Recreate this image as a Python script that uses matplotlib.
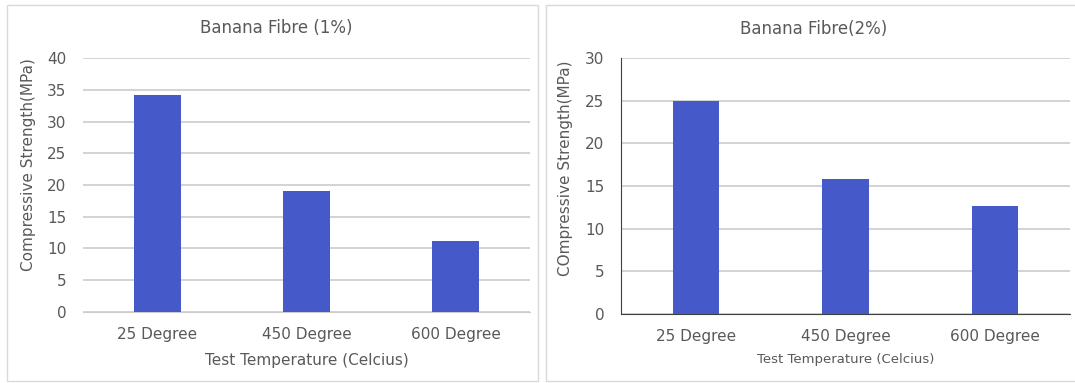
import matplotlib.pyplot as plt
from matplotlib.patches import Rectangle

temps = ['25 Degree', '450 Degree', '600 Degree']
strength_1pct = [34.2, 19.0, 11.2]
strength_2pct = [25.0, 15.8, 12.7]

bar_color = '#4659c8'
text_color = '#595959'
grid_color = '#cccccc'

plt.rcParams['font.family'] = 'DejaVu Sans'

fig = plt.figure(figsize=(10.75, 3.83), dpi=100)
W, H = 1075, 383

# light chart-area frames
fig.patches.append(Rectangle((7 / W, 1 - 381 / H), 531 / W, 376 / H, transform=fig.transFigure,
                             fill=False, edgecolor='#d9d9d9', linewidth=1))
fig.patches.append(Rectangle((546 / W, 1 - 381 / H), 535 / W, 376 / H, transform=fig.transFigure,
                             fill=False, edgecolor='#d9d9d9', linewidth=1))

ax1 = fig.add_axes([83 / W, 1 - 311.7 / H, 447 / W, 253.4 / H])
ax2 = fig.add_axes([621 / W, 1 - 314 / H, 449 / W, 256 / H])


def style(ax, values, ymax, ylabel, xlabel_size, dark_spines):
    x = range(len(temps))
    ax.bar(x, values, width=0.31, color=bar_color, zorder=3)
    ax.set_xlim(-0.5, 2.5)
    ax.set_ylim(0, ymax)
    ax.set_yticks(range(0, ymax + 1, 5))
    ax.set_xticks(list(x))
    ax.set_xticklabels(temps)
    ax.grid(axis='y', color=grid_color, linewidth=1.2, zorder=0)
    ax.tick_params(length=0, labelsize=11, labelcolor=text_color)
    ax.tick_params(axis='y', pad=12)
    ax.tick_params(axis='x', pad=11)
    for side in ['top', 'right']:
        ax.spines[side].set_visible(False)
    if dark_spines:
        ax.spines['left'].set_color('#404040')
        ax.spines['bottom'].set_color('#404040')
        ax.spines['left'].set_zorder(4)
        ax.spines['bottom'].set_zorder(4)
    else:
        ax.spines['left'].set_visible(False)
        ax.spines['bottom'].set_color(grid_color)
    ax.set_ylabel(ylabel, fontsize=11, color=text_color)
    ax.yaxis.label.set_va('center')
    ax.set_xlabel('Test Temperature (Celcius)', fontsize=xlabel_size, color=text_color)
    ax.xaxis.label.set_va('center')


style(ax1, strength_1pct, 40, 'Compressive Strength(MPa)', 11, False)
ax1.xaxis.set_label_coords(0.5, (311.7 - 360) / 253.4)
ax1.yaxis.set_label_coords(-0.123, 0.579)

style(ax2, strength_2pct, 30, 'COmpressive Strength(MPa)', 9.5, True)
ax2.xaxis.set_label_coords(0.5, (314 - 359) / 256)
ax2.yaxis.set_label_coords(-0.1225, 0.57)

fig.text(276 / W, 1 - 28 / H, 'Banana Fibre (1%)', ha='center', va='center',
         fontsize=12, color=text_color)
fig.text(814 / W, 1 - 29 / H, 'Banana Fibre(2%)', ha='center', va='center',
         fontsize=12, color=text_color)

fig.savefig('out.png', dpi=100)
